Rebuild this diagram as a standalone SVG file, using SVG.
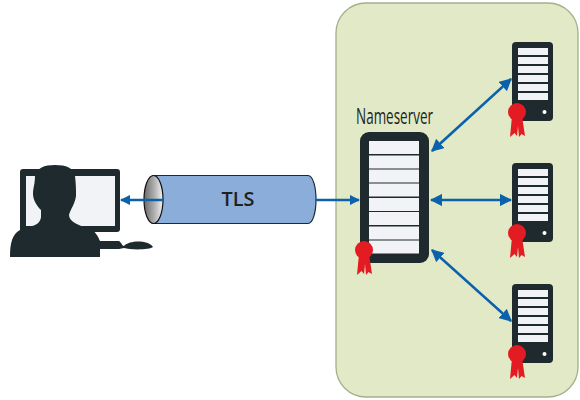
<svg xmlns="http://www.w3.org/2000/svg" width="580" height="400" viewBox="0 0 580 400">
<style>
.d{fill:#1f2a2e}
.b{fill:#f2f3f7}
.r{fill:#e31b23}
.c{stroke:#0b62ab;stroke-width:2.6;fill:none;marker-start:url(#a);marker-end:url(#a)}
.t{font-family:"Open Sans","Liberation Sans",sans-serif;fill:#231f20}
</style>
<defs>
<marker id="a" viewBox="0 0 10 10" refX="9" refY="5" markerWidth="4.800" markerHeight="4.800" orient="auto-start-reverse"><path d="M0 0L10 5L0 10Z" fill="#0b62ab"/></marker>
<marker id="e" viewBox="0 0 10 10" refX="9" refY="5" markerWidth="4" markerHeight="4" orient="auto"><path d="M0 0L10 5L0 10Z" fill="#0b62ab"/></marker>
<linearGradient id="g" x1="0" x2="1" y1="0" y2="0"><stop offset="0" stop-color="#6a6a6a"/><stop offset=".55" stop-color="#b0b0b0"/><stop offset="1" stop-color="#f4f4f4"/></linearGradient>
<g id="ribbon"><path class="r" d="M-5 4L-7 25L-2.500 21L0 24L1 14L2 25L4.500 22L8 24L5 4Z"/><circle class="r" r="9"/></g>
<g id="srv"><rect class="d" x="0" y="0" width="41" height="79" rx="4"/>
<rect class="b" x="6" y="6" width="30" height="7"/><rect class="b" x="6" y="15" width="30" height="7"/><rect class="b" x="6" y="24" width="30" height="7"/><rect class="b" x="6" y="33" width="30" height="7"/><rect class="b" x="6" y="42" width="30" height="7"/><rect class="b" x="6" y="51" width="30" height="7"/>
<circle cx="32.500" cy="70" r="2" fill="#fff"/><use href="#ribbon" x="5" y="70"/></g>
</defs>
<rect width="580" height="400" fill="#fff"/>
<rect id="panel" x="336" y="3" width="242" height="394" rx="30" fill="#e1e9c7" stroke="#a3b08c" stroke-width="1.300"/>
<g id="client">
<rect class="d" x="20" y="169" width="100" height="63" rx="3"/>
<rect class="b" x="26" y="176" width="89" height="50"/>
<path class="d" d="M10 257C10 244 12 234 20 230C28 226 40 227 41 217L41 210C37 206 33 200 33 194C33 188 35 184 35 176C37 168 44 165 55 165C66 165 74 168 75 176C76 184 76 190 76 196C75 204 71 208 69 215C69 222 80 226 90 229C95 231 98 236 100 241L119 241C122 243 122 246 124 246C130 240 148 240 153 247C150 250 130 250 124 248L119 249L100 249L100 257Z"/>
</g>
<g id="tunnel">
<path d="M153 175.500H308C313 175.500 316 187 316 199.500C316 212 313 223.500 308 223.500H153Z" fill="#8aadda" stroke="#1f2a2e" stroke-width="1.200"/>
<ellipse cx="153.500" cy="199.500" rx="9.500" ry="24" fill="url(#g)" stroke="#111" stroke-width="1.200"/>
<text class="t" x="238" y="205.500" font-size="19" font-weight="600" text-anchor="middle" textLength="33" lengthAdjust="spacingAndGlyphs">TLS</text>
</g>
<g id="connectors">
<path d="M163 200H121" stroke="#0b62ab" stroke-width="2.600" fill="none" marker-end="url(#e)"/>
<path d="M316 200H359" stroke="#0b62ab" stroke-width="2.600" fill="none" marker-end="url(#e)"/>
<path class="c" d="M432 151L511 79"/>
<path class="c" d="M431 200H511"/>
<path class="c" d="M432 250L511 321"/>
</g>
<g id="nameserver">
<text class="t" x="356" y="124" font-size="21" textLength="77" lengthAdjust="spacingAndGlyphs">Nameserver</text>
<rect class="d" x="360" y="132" width="69" height="131" rx="9"/>
<rect class="b" x="369" y="141" width="50" height="13"/><rect class="b" x="369" y="155.500" width="50" height="13"/><rect class="b" x="369" y="169.500" width="50" height="13"/><rect class="b" x="369" y="183.500" width="50" height="13"/><rect class="b" x="369" y="198" width="50" height="13"/><rect class="b" x="369" y="212" width="50" height="13"/><rect class="b" x="369" y="226.500" width="50" height="13"/><rect class="b" x="369" y="240.500" width="50" height="13"/>
<use href="#ribbon" x="364" y="250"/>
</g>
<g id="server1"><use href="#srv" x="512" y="42"/></g>
<g id="server2"><use href="#srv" x="512" y="163"/></g>
<g id="server3"><use href="#srv" x="512" y="284"/></g>
</svg>
